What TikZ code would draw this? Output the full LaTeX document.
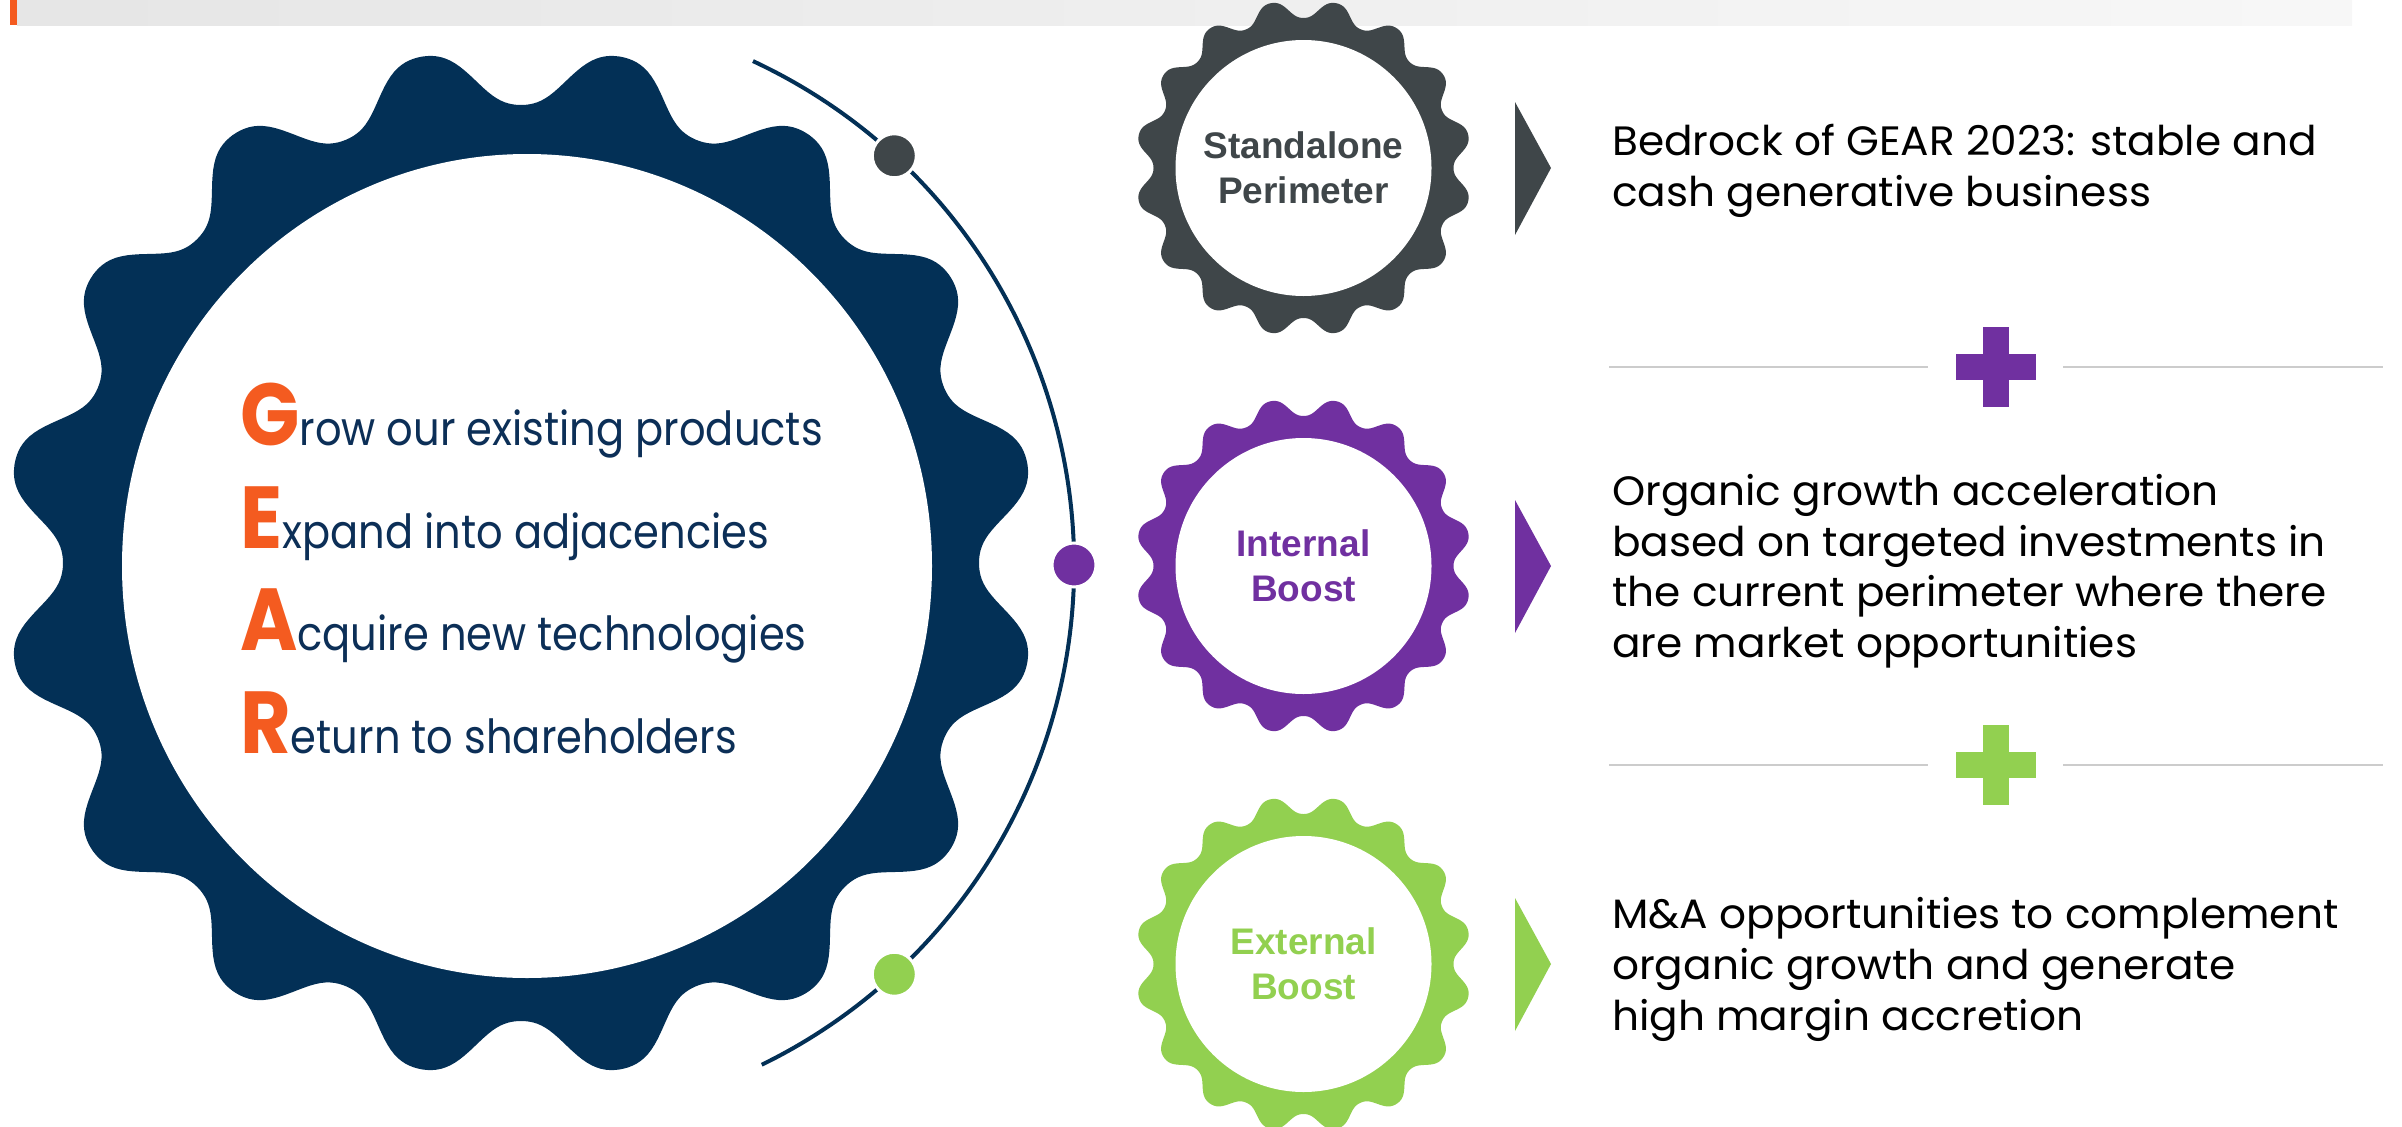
\documentclass[tikz,border=0pt]{standalone}
\usepackage{fontspec}
\setmainfont{Poppins}
\newfontfamily\labelfont{Liberation Sans}
\newfontfamily\leftfont[FakeStretch=0.885]{Poppins}
\newfontfamily\rightfont[FakeStretch=1.03]{Poppins}
\definecolor{navy}{HTML}{033056}
\definecolor{textblue}{HTML}{0C2F57}
\definecolor{gearorange}{HTML}{F45B20}
\definecolor{geargray}{HTML}{3F4649}
\definecolor{gearpurple}{HTML}{7030A0}
\definecolor{geargreen}{HTML}{92D050}
\definecolor{rulegray}{HTML}{CCCCCC}
\newcommand\gearfill[5]{%
  \fill[#5] plot[domain=0:360, samples=721, variable=\t]
   ({#1 + (#3 + #4*gf(\t))*cos(\t)}, {#2 + (#3 + #4*gf(\t))*sin(\t)}) -- cycle;}
\newcommand\initial[1]{{\color{gearorange}\fontsize{88}{88}\bfseries\selectfont #1}}
\tikzset{
  declare function={gc(\t)=cos(16*(\t-11.25)); gf(\t)=(1.15*gc(\t) - 0.2*gc(\t)*gc(\t)*gc(\t))/0.95;},
  gearline/.style={anchor=base west, inner sep=0pt, text=textblue, font=\leftfont\fontsize{47}{50}\selectfont},
  desc/.style={anchor=base west, inner sep=0pt, text=black, font=\rightfont\fontsize{41}{50}\selectfont},
  glabel/.style={anchor=base, inner sep=0pt, font=\labelfont\bfseries\fontsize{37}{40}\selectfont},
  rule/.style={draw=rulegray, line width=1.7pt},
  dotwhite/.style={draw=white, line width=3pt}
}
\begin{document}
\begin{tikzpicture}[x=1pt,y=-1pt]
\useasboundingbox (0,0) rectangle (2402,1127);
% top bar
\shade[left color=black!10, right color=black!3] (17,0) rectangle (2352,25);
\fill[gearorange] (10,0) rectangle (17,25);
% big gear
\gearfill{521}{563}{487}{29}{navy}
\fill[white] (527,566) ellipse [x radius=405, y radius=412];
% arc and dots
\coordinate (ac) at (518,565);
\draw[navy, line width=4pt] (ac) ++(-65:556) arc[start angle=-65, end angle=64, radius=556];
\fill[geargray, dotwhite] (ac) ++(-47.4:556) circle (22);
\fill[gearpurple, dotwhite] (ac) ++(0:556) circle (22);
\fill[geargreen, dotwhite] (ac) ++(47.4:556) circle (22);
% GEAR text
\node[gearline] (lg) at (240,445) {\initial{G}row our existing products};
\node[gearline] (le) at (240,548) {\initial{E}xpand into adjacencies};
\node[gearline] (la) at (240,650) {\initial{A}cquire new technologies};
\node[gearline] (lr) at (240,753) {\initial{R}eturn to shareholders};
% small gears
\foreach \cy/\col in {168/geargray, 566/gearpurple, 964/geargreen}{
  \gearfill{1303.5}{\cy}{159}{9}{\col}
  \fill[white] (1303.5,\cy) circle (128);
  \fill[\col] (1515,\cy-66) -- (1551,\cy) -- (1515,\cy+67) -- cycle;
}
\node[glabel, text=geargray] (s1) at (1303.5,158.5) {Standalone};
\node[glabel, text=geargray] (s2) at (1303.5,203.5) {Perimeter};
\node[glabel, text=gearpurple] (i1) at (1303.5,556.5) {Internal};
\node[glabel, text=gearpurple] (i2) at (1303.5,601.5) {Boost};
\node[glabel, text=geargreen] (e1) at (1303.5,954.5) {External};
\node[glabel, text=geargreen] (e2) at (1303.5,999.5) {Boost};
% plus separators
\foreach \py/\col in {367/gearpurple, 765/geargreen}{
  \draw[rule] (1609,\py) -- (1928,\py);
  \draw[rule] (2063,\py) -- (2383,\py);
  \fill[\col] (1983,\py-40) rectangle (2009,\py+40);
  \fill[\col] (1956,\py-13) rectangle (2036,\py+13);
}
% descriptions
\node[desc] (d1) at (1612,155) {Bedrock of GEAR 2023: stable and};
\node[desc] (d2) at (1612,206) {cash generative business};
\node[desc] (d3) at (1612,505) {Organic growth acceleration};
\node[desc] (d4) at (1612,556) {based on targeted investments in};
\node[desc] (d5) at (1612,606.5) {the current perimeter where there};
\node[desc] (d6) at (1612,657) {are market opportunities};
\node[desc] (d7) at (1612,928) {M\&A opportunities to complement};
\node[desc] (d8) at (1612,979) {organic growth and generate};
\node[desc] (d9) at (1612,1030) {high margin accretion};
\end{tikzpicture}
\end{document}
